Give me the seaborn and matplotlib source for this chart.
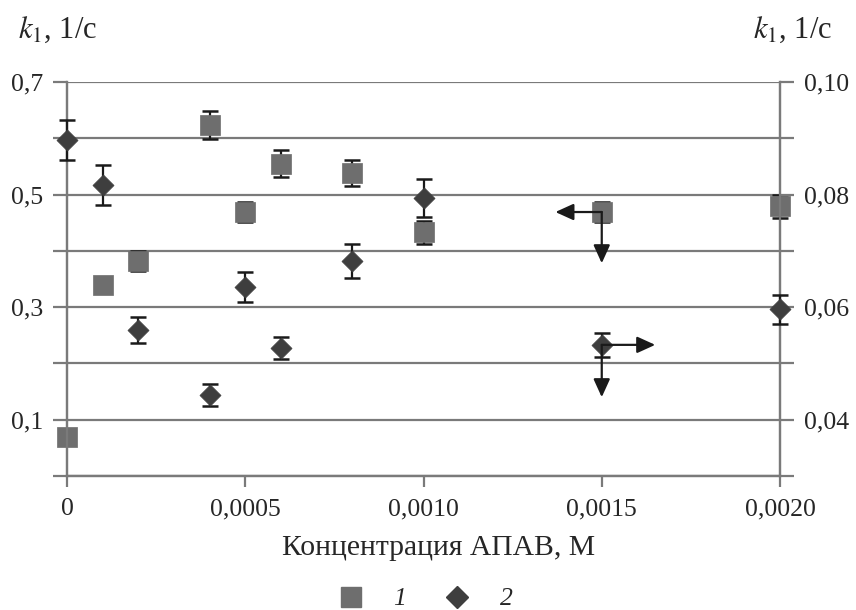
import matplotlib
matplotlib.use("Agg")
import matplotlib.pyplot as plt
from matplotlib.lines import Line2D
import seaborn as sns
import pandas as pd

# ---- data ----
conc = [0.0, 0.0001, 0.0002, 0.0004, 0.0005, 0.0006, 0.0008, 0.0010, 0.0015, 0.0020]
k1_series1 = [0.069, 0.339, 0.382, 0.623, 0.469, 0.555, 0.538, 0.433, 0.469, 0.479]   # left axis
err_series1 = [0.0, 0.0, 0.018, 0.025, 0.018, 0.024, 0.023, 0.020, 0.018, 0.020]
k1_series2 = [0.0897, 0.0817, 0.0559, 0.0444, 0.0636, 0.0527, 0.0682, 0.0794, 0.0533, 0.0596]  # right axis
err_series2 = [0.0036, 0.0035, 0.0023, 0.0020, 0.0026, 0.0020, 0.0030, 0.0034, 0.0021, 0.0026]

x_ticks = [0.0, 0.0005, 0.0010, 0.0015, 0.0020]
x_labels = ["0", "0,0005", "0,0010", "0,0015", "0,0020"]
left_ticks = [0.0, 0.1, 0.2, 0.3, 0.4, 0.5, 0.6, 0.7]
left_labels = ["", "0,1", "", "0,3", "", "0,5", "", "0,7"]
right_ticks = [0.03, 0.04, 0.05, 0.06, 0.07, 0.08, 0.09, 0.10]
right_labels = ["", "0,04", "", "0,06", "", "0,08", "", "0,10"]

# arrows: (start x, start y, end x, end y)
arrow1_left = (0.0015, 0.469, 0.00137, 0.469)
arrow1_down = (0.0015, 0.469, 0.0015, 0.378)
arrow2_right = (0.0015, 0.0533, 0.00165, 0.0533)
arrow2_down = (0.0015, 0.0533, 0.0015, 0.0440)

xlabel = "Концентрация АПАВ, М"
ylabel = r"$k_1$, 1/с"
legend_labels = ["1", "2"]

df1 = pd.DataFrame({"x": conc, "y": k1_series1, "e": err_series1})
df2 = pd.DataFrame({"x": conc, "y": k1_series2, "e": err_series2})

# ---- style ----
sns.set_theme(style="white")
plt.rcParams["font.family"] = ["Liberation Serif", "DejaVu Serif"]
plt.rcParams["mathtext.fontset"] = "stix"

GRID = "#7a7a7a"
C1 = "#6e6e6e"
C2 = "#3e3e3e"
FS = 18.5

fig = plt.figure(figsize=(8.56, 6.10), dpi=100)
ax = fig.add_axes([67 / 856, 1 - 476 / 610, (780 - 67) / 856, (476 - 82) / 610])
ax2 = ax.twinx()

ax.set_xlim(0, 0.002)
ax.set_ylim(0, 0.7)
ax2.set_ylim(0.03, 0.10)

ax.set_yticks(left_ticks)
ax.set_yticklabels(left_labels)
ax2.set_yticks(right_ticks)
ax2.set_yticklabels(right_labels)
ax.set_xticks(x_ticks)
ax.set_xticklabels(x_labels)

ax.grid(True, axis="y", color=GRID, lw=1.6)
ax.grid(False, axis="x")
ax2.grid(False)

for a in (ax, ax2):
    a.spines["top"].set_visible(False)
    for s in ("left", "right", "bottom"):
        a.spines[s].set_color(GRID)
        a.spines[s].set_linewidth(1.6)

ax.tick_params(axis="y", direction="out", length=10, width=1.6, color=GRID,
               labelsize=FS, pad=7, left=True, right=False)
ax.tick_params(axis="x", direction="out", length=8, width=1.6, color=GRID,
               labelsize=FS, pad=8, bottom=True)
ax2.tick_params(axis="y", direction="out", length=10, width=1.6, color=GRID,
                labelsize=FS, pad=7, right=True, left=False)

# error bars
ax.errorbar(df1["x"], df1["y"], yerr=df1["e"], fmt="none", ecolor="#1a1a1a",
            elinewidth=1.6, capsize=6, capthick=1.8, zorder=3, clip_on=False)
ax2.errorbar(df2["x"], df2["y"], yerr=df2["e"], fmt="none", ecolor="#1a1a1a",
             elinewidth=1.6, capsize=6, capthick=1.8, zorder=3, clip_on=False)

# markers
sns.scatterplot(data=df1, x="x", y="y", ax=ax, marker="s", s=225, color=C1,
                edgecolor=C1, linewidth=0.5, zorder=4, clip_on=False, legend=False)
sns.scatterplot(data=df2, x="x", y="y", ax=ax2, marker="D", s=115, color=C2,
                edgecolor=C2, linewidth=0.5, zorder=4, clip_on=False, legend=False)

ax.set_xlabel("")
ax.set_ylabel("")
ax2.set_ylabel("")

# arrows
astyle = dict(arrowstyle="-|>,head_length=0.55,head_width=0.25", mutation_scale=20,
              color="#1a1a1a", lw=1.6, shrinkA=0, shrinkB=0)
for a, (x0, y0, x1, y1) in ((ax, arrow1_left), (ax, arrow1_down),
                            (ax2, arrow2_right), (ax2, arrow2_down)):
    a.annotate("", xy=(x1, y1), xytext=(x0, y0), arrowprops=astyle, zorder=5)

# axis titles
TFS = 22
fig.text(18 / 856, 1 - 30 / 610, ylabel, fontsize=TFS, ha="left", va="center")
fig.text(832 / 856, 1 - 30 / 610, ylabel, fontsize=TFS, ha="right", va="center")
fig.text(439 / 856, 1 - 548 / 610, xlabel, fontsize=21.3, ha="center", va="center")

# legend
handles = [Line2D([], [], ls="none", marker="s", ms=14.4, color=C1),
           Line2D([], [], ls="none", marker="D", ms=11, color=C2)]
leg = fig.legend(handles, legend_labels, loc="center", ncol=2, frameon=False,
                 bbox_to_anchor=(424 / 856, 1 - 599 / 610),
                 columnspacing=1.4, handletextpad=1.05, handlelength=1.2,
                 prop={"style": "italic", "size": FS})

fig.savefig("out.png", dpi=100)
